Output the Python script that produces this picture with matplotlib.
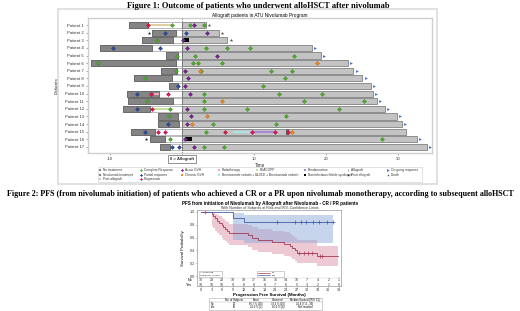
import matplotlib
matplotlib.use("Agg")
import matplotlib.pyplot as plt
from matplotlib.patches import Rectangle
import numpy as np

plt.rcParams['font.family'] = ['Liberation Sans', 'DejaVu Sans']

# ---------------- Figure 1 data (months, 0 = allograft) ----------------
patients = [f"Patient {i}" for i in range(1, 18)]
nivo_start = [-7.4, -4.2, -5.6, -11.4, -2.2, -12.6, -2.9, -6.7, -1.8, -7.7, -7.5, -8.2, -3.4, -3.3, -7.1, -4.5, -3.0]
nivo_end = [-4.7, -0.9, -1.2, -4.2, -0.6, -0.9, -0.7, -1.4, -0.5, -3.2, -1.2, -4.5, -0.6, -0.4, -3.7, -2.4, -1.6]
post_end = [3.3, 5.1, 6.3, 18.1, 19.3, 23.0, 23.8, 25.0, 26.2, 26.5, 27.0, 28.2, 29.9, 30.5, 31.1, 32.6, 34.0]

cr_pat = [1, 1, 1, 3, 4, 4, 4, 5, 5, 5, 6, 6, 6, 6, 7, 7, 7, 7, 8, 8, 9, 10, 10, 10,
          11, 11, 11, 11, 12, 12, 12, 12, 13, 13, 14, 14, 15, 16, 16, 17, 17]
cr_time = [-1.4, 1.1, 3.1, -3.5, 3.3, 6.2, 9.4, -0.7, 1.8, 15.5, -11.7, 1.5, 2.2, 5.6,
           -0.9, 2.7, 12.3, 15.3, -5.2, 14.3, 11.2, 3.0, 13.4, 19.5,
           -4.9, 3.1, 17.0, 25.2, -1.6, 3.0, 9.0, 21.8, -1.8, 14.5, 4.3, 13.1, 3.3, -1.7, 27.8, 3.0, 5.8]
pr_pat = [2, 2, 4, 4, 9, 10, 12, 14, 15, 17, 17]
pr_time = [-2.3, 0.6, -9.6, -3.0, -0.5, -6.2, -6.3, -2.0, -5.1, -1.4, -0.4]
prog_pat = [1, 10, 10, 12, 15, 15, 15, 15, 15, 15]
prog_time = [-4.7, -4.3, -1.9, -4.2, -3.3, -2.4, 6.0, 9.7, 12.9, 14.7]
agvh_pat = [1, 2, 3, 4, 5, 7, 8, 9, 10, 12, 13, 14, 16, 17]
agvh_time = [1.6, 3.4, 0.2, 0.7, 4.9, 0.4, 0.8, 0.4, 1.1, 0.7, 1.3, 0.7, 0.4, 1.6]
cgvh_pat = [6, 7, 11, 13, 14, 15]
cgvh_time = [18.8, 2.5, 5.5, 3.5, 1.4, 15.3]
ongoing_pat = [4, 5, 6, 7, 8, 9, 10, 11, 12, 13, 14, 16, 17]
ongoing_time = [18.5, 19.7, 23.5, 24.3, 25.6, 26.7, 26.9, 27.5, 28.6, 30.3, 30.9, 33.0, 34.4]
death_pat = [1, 2, 3]
death_time = [3.7, 5.6, 6.8]
prior_pat = [2, 16]
prior_time = [-4.6, -5.0]

# treatment segments: (patient, start, end)
beacopp = [(1, -4.7, -1.4)]
radio = [(10, -3.9, -3.2)]
ice_bv = [(12, -4.0, -1.6)]
bv_dli = [(15, 7.1, 9.4)]
benda = [(15, 9.9, 12.9)]
febrile = [(3, 0.3, 1.0), (16, 0.4, 1.4)]
allo2 = [(15, 14.5, 14.9)]

# ---------------- Figure 2 data (PFS, months) ----------------
no_t = [0, 3.1, 3.5, 4.0, 4.5, 5.0, 5.8, 6.3, 6.8, 7.3, 8.0, 13.4, 14.5, 16.0, 20.0, 23.5, 25.2, 25.8, 26.5, 27.0, 32.7, 38.7]
no_s = [1.0, 0.967, 0.933, 0.90, 0.867, 0.833, 0.80, 0.767, 0.733, 0.70, 0.667, 0.633, 0.60, 0.567, 0.533, 0.50, 0.467, 0.433, 0.40, 0.367, 0.31, 0.31]
no_lo = [1.0, 0.78, 0.75, 0.71, 0.67, 0.64, 0.60, 0.57, 0.54, 0.51, 0.48, 0.45, 0.41, 0.38, 0.35, 0.32, 0.29, 0.26, 0.23, 0.20, 0.16, 0.16]
no_hi = [1.0, 0.995, 0.99, 0.97, 0.95, 0.93, 0.91, 0.89, 0.86, 0.84, 0.81, 0.79, 0.76, 0.73, 0.71, 0.68, 0.65, 0.62, 0.59, 0.56, 0.47, 0.47]
no_cens_t = [1.2, 27.8, 29.0, 30.3, 31.5, 33.5, 34.3]
no_cens_s = [1.0, 0.367, 0.367, 0.367, 0.367, 0.31, 0.31]

yes_t = [0, 9.0, 12.2, 37.4]
yes_s = [1.0, 0.91, 0.84, 0.84]
yes_lo = [1.0, 0.57, 0.52, 0.52]
yes_hi = [1.0, 0.99, 0.955, 0.955]
yes_cens_t = [21.6, 26.6, 28.2, 29.7, 31.6, 33.4, 35.5, 37.4]

risk_ticks = list(range(0, 40, 3))
risk_no = [30, 29, 23, 19, 19, 17, 16, 15, 14, 10, 7, 4, 2, 1]
risk_yes = [10, 10, 10, 9, 8, 8, 8, 7, 6, 5, 3, 2, 1, 0]

fig = plt.figure(figsize=(5.2, 3.11), dpi=100)
W, H = 520, 311


def ax_rect(x0, y0, x1, y1):
    return [x0 / W, 1 - y1 / H, (x1 - x0) / W, (y1 - y0) / H]


# overlay in pixel coordinates for titles, frames and legends
ov = fig.add_axes([0, 0, 1, 1], zorder=5)
ov.set_xlim(0, W)
ov.set_ylim(H, 0)
ov.axis('off')
ov.patch.set_alpha(0)

serif = ['Liberation Serif', 'DejaVu Serif']
ov.text(258, 5.5, "Figure 1: Outcome of patients who underwent alloHSCT after nivolumab",
        ha='center', va='center', fontsize=6.0, fontweight='bold', family=serif)
ov.text(260, 194, "Figure 2: PFS (from nivolumab initiation) of patients who achieved a CR or a PR upon "
        "nivolumab monotherapy, according to subsequent alloHSCT",
        ha='center', va='center', fontsize=5.8, fontweight='bold', family=serif)
ov.add_patch(Rectangle((58, 8.5), 379, 175.5, fill=False, ec='#dcdcdc', lw=1.2))
ov.text(260, 15, "Allograft patients in ATU Nivolumab Program", ha='center', va='center', fontsize=3.4)

# ---------------- Gantt chart ----------------
ax = fig.add_axes(ax_rect(88, 18, 432, 153))
ypos = np.arange(1, len(patients) + 1)
bh = 0.8
for y, s, e, pe in zip(ypos, nivo_start, nivo_end, post_end):
    ax.add_patch(Rectangle((s, y - bh / 2), 0 - s, bh, fc='white', ec='#b0b0b0', lw=0.6, zorder=1))
    ax.add_patch(Rectangle((s, y - bh / 2), e - s, bh, fc='#858585', ec='#6a6a6a', lw=0.7, zorder=2))
    ax.add_patch(Rectangle((0, y - bh / 2), pe, bh, fc='#c3c3c3', ec='#8e8e8e', lw=0.7, zorder=2))

seg_styles = [(beacopp, '#e0cfa0', 0.28), (radio, '#f0a8bf', 0.28), (ice_bv, '#bfe59a', 0.28),
              (bv_dli, '#a9e3e3', 0.28), (benda, '#a88ad8', 0.28), (febrile, '#000000', 0.5),
              (allo2, '#6a6a6a', 0.8)]
for segs, col, h in seg_styles:
    for p, s, e in segs:
        ax.add_patch(Rectangle((s, p - h / 2), e - s, h, fc=col, ec='none', zorder=3))

mk = dict(ls='none', markersize=2.0, zorder=4, markeredgewidth=0.3)
ax.plot(cr_time, cr_pat, marker='D', color='#4fae2c', mec='#2f7f16', **mk)
ax.plot(pr_time, pr_pat, marker='D', color='#2c4ea3', mec='#1a3070', **mk)
ax.plot(prog_time, prog_pat, marker='D', color='#e8174f', mec='#a00030', **mk)
ax.plot(agvh_time, agvh_pat, marker='D', color='#7d1f92', mec='#501060', **mk)
ax.plot(cgvh_time, cgvh_pat, marker='D', color='#f08a24', mec='#b06010', **mk)
ax.plot(ongoing_time, ongoing_pat, marker='>', color='#4068c8', ls='none', markersize=2.0, zorder=4, mew=0)
ax.plot(death_time, death_pat, marker='*', color='#555555', ls='none', markersize=2.6, zorder=4, mew=0)
ax.plot(prior_time, prior_pat, marker='*', color='#222222', ls='none', markersize=2.6, zorder=4, mew=0)
ax.axvline(0, color='#555555', lw=0.5, ls=(0, (2, 1.5)), zorder=5)

ax.set_xlim(-13.05, 34.7)
ax.set_ylim(17.79, 0.08)
ax.set_yticks(ypos)
ax.set_yticklabels(patients, fontsize=3.1, color='#333333')
ax.set_xticks([-10, 0, 10, 20, 30])
ax.set_xticklabels(['-10', '0 = Allograft', '10', '20', '30'], fontsize=3.1, color='#333333')
ax.get_xticklabels()[1].set_bbox(dict(boxstyle='square,pad=0.4', fc='white', ec='#666666', lw=0.5))
ax.get_xticklabels()[1].set_fontweight('bold')
ax.tick_params(length=1.5, width=0.4, pad=1.5, colors='#666666', labelcolor='#333333')
ax.set_ylabel('Patients', fontsize=3.3, labelpad=4, color='#333333')
ax.set_xlabel('Time', fontsize=3.3, labelpad=1.5, color='#333333')
for sp in ax.spines.values():
    sp.set_color('#cfcfcf')
    sp.set_linewidth(1.0)

# legend (manual grid, 8 columns)
ov.add_patch(Rectangle((98, 166.5), 324, 15.5, fill=False, ec='#dddddd', lw=0.6))
leg_cols = [
    (99, [('s', '#808080', 'No treatment'), ('s', '#808080', 'Nivolumab treatment'), ('s', '#c8c8c8', 'Post allograft')]),
    (140, [('P', '#4fae2c', 'Complete Response'), ('P', '#2c4ea3', 'Partial response'), ('P', '#e8174f', 'Progression')]),
    (181, [('P', '#7d1f92', 'Acute GVH'), ('s', '#f08a24', 'Chronic GVH')]),
    (218, [('s', '#f0a8bf', 'Radiotherapy'), ('s', '#a9e3e3', 'Brentuximab vedotin + DLI')]),
    (256, [('s', '#bfe59a', 'BEACOPP'), ('s', '#e0cfa0', 'ICE + Brentuximab vedotin')]),
    (304, [('s', '#a88ad8', 'Bendamustine'), ('s', '#000000', 'Noninfectious febrile syndrome')]),
    (347, [('$I$', '#444444', 'Allograft'), ('*', '#222222', 'Prior allograft')]),
    (387, [('>', '#4068c8', 'On going response'), ('*', '#555555', 'Death')]),
]
for x0, entries in leg_cols:
    for i, (m, c, lab) in enumerate(entries):
        yy = 170.3 + i * 4.3
        ov.plot([x0 + 1], [yy], marker=m, color=c, markersize=2.0, ls='none', mew=0)
        ov.text(x0 + 4, yy, lab, fontsize=2.3, va='center', ha='left', color='#333333')

# ---------------- Kaplan-Meier ----------------
ov.text(270, 204, "PFS from initiation of Nivolumab by Allograft after Nivolumab - CR / PR patients",
        ha='center', va='center', fontsize=3.3, fontweight='bold')
ov.text(270, 208.2, "With Number of Subjects at Risk and 95% Confidence Limits",
        ha='center', va='center', fontsize=2.6, color='#333333')

km = fig.add_axes(ax_rect(197, 210, 341, 286))
red, blue = '#a53a55', '#3f5fa8'
km.fill_between(no_t, no_lo, no_hi, step='post', color='#d98a9e', alpha=0.45, lw=0)
km.fill_between(yes_t, yes_lo, yes_hi, step='post', color='#8faadb', alpha=0.5, lw=0)
km.step(no_t, no_s, where='post', color=red, lw=0.6)
km.step(yes_t, yes_s, where='post', color=blue, lw=0.6)
km.plot(no_cens_t, no_cens_s, '+', color=red, markersize=2.2, mew=0.5)
km.plot(yes_cens_t, [yes_s[-1]] * len(yes_cens_t), '+', color=blue, markersize=2.2, mew=0.5)
km.set_xlim(-1.13, 39.56)
km.set_ylim(-0.156, 1.031)
km.set_yticks([0, 0.2, 0.4, 0.6, 0.8, 1.0])
km.set_yticklabels([f"{v:.1f}" for v in [0, 0.2, 0.4, 0.6, 0.8, 1.0]])
km.set_xticks(risk_ticks)
km.tick_params(labelsize=2.7, length=1.0, width=0.4, pad=0.6, colors='#555555', labelcolor='#333333')
km.set_ylabel('Survival Probability', fontsize=3.1, labelpad=3)
km.set_xlabel('Progression Free Survival (Months)', fontsize=3.2, fontweight='bold')
km.xaxis.set_label_coords(0.5, -0.095)
for sp in km.spines.values():
    sp.set_color('#9a9a9a')
    sp.set_linewidth(0.5)
km.axhline(-0.03, color='#cccccc', lw=0.3)
tr = km.get_yaxis_transform()
km.text(-0.035, -0.0625, 'No', transform=tr, fontsize=2.7, ha='right', va='center')
km.text(-0.035, -0.133, 'Yes', transform=tr, fontsize=2.7, ha='right', va='center')
for t, a, b in zip(risk_ticks, risk_no, risk_yes):
    km.text(t, -0.0625, str(a), fontsize=2.6, ha='center', va='center', color='#333333')
    km.text(t, -0.133, str(b), fontsize=2.6, ha='center', va='center', color='#333333')

# KM legends
ov.add_patch(Rectangle((199, 271.0), 23, 5.8, fc='white', ec='#aaaaaa', lw=0.4))
ov.text(200, 272.5, "+  Censored", fontsize=1.7, va='center')
ov.text(200, 275.3, "Logrank p=0.0316", fontsize=1.7, va='center')
ov.add_patch(Rectangle((257, 271.0), 27, 5.8, fc='white', ec='#aaaaaa', lw=0.4))
ov.plot([258, 270], [272.5, 272.5], color=red, lw=0.5)
ov.plot([258, 270], [275.3, 275.3], color=blue, lw=0.5)
ov.text(272, 272.5, "No", fontsize=1.7, va='center')
ov.text(272, 275.3, "Yes", fontsize=1.7, va='center')

# summary table
ov.add_patch(Rectangle((209, 297.6), 113, 12.6, fill=False, ec='#aaaaaa', lw=0.4))
ov.plot([209, 322], [301.5, 301.5], color='#aaaaaa', lw=0.3)
tcols = [234, 256, 278, 305]
heads = ['No. of Subjects', 'Event', 'Censored', 'Median Survival (95% CL)']
rows = [('No', ['30', '66.7 % (20)', '33.3 % (10)', '20.4 (7.4 - 33)']),
        ('Yes', ['10', '20.0 % (2)', '80.0 % (8)', 'Not reached'])]
for x, h in zip(tcols, heads):
    ov.text(x, 299.6, h, fontsize=1.9, ha='center', va='center')
for j, (lab, vals) in enumerate(rows):
    yy = 303.9 + j * 3.4
    ov.text(211, yy, lab, fontsize=1.9, ha='left', va='center')
    for x, v in zip(tcols, vals):
        ov.text(x, yy, v, fontsize=1.9, ha='center', va='center')

fig.savefig('out.png', dpi=100, facecolor='white')
